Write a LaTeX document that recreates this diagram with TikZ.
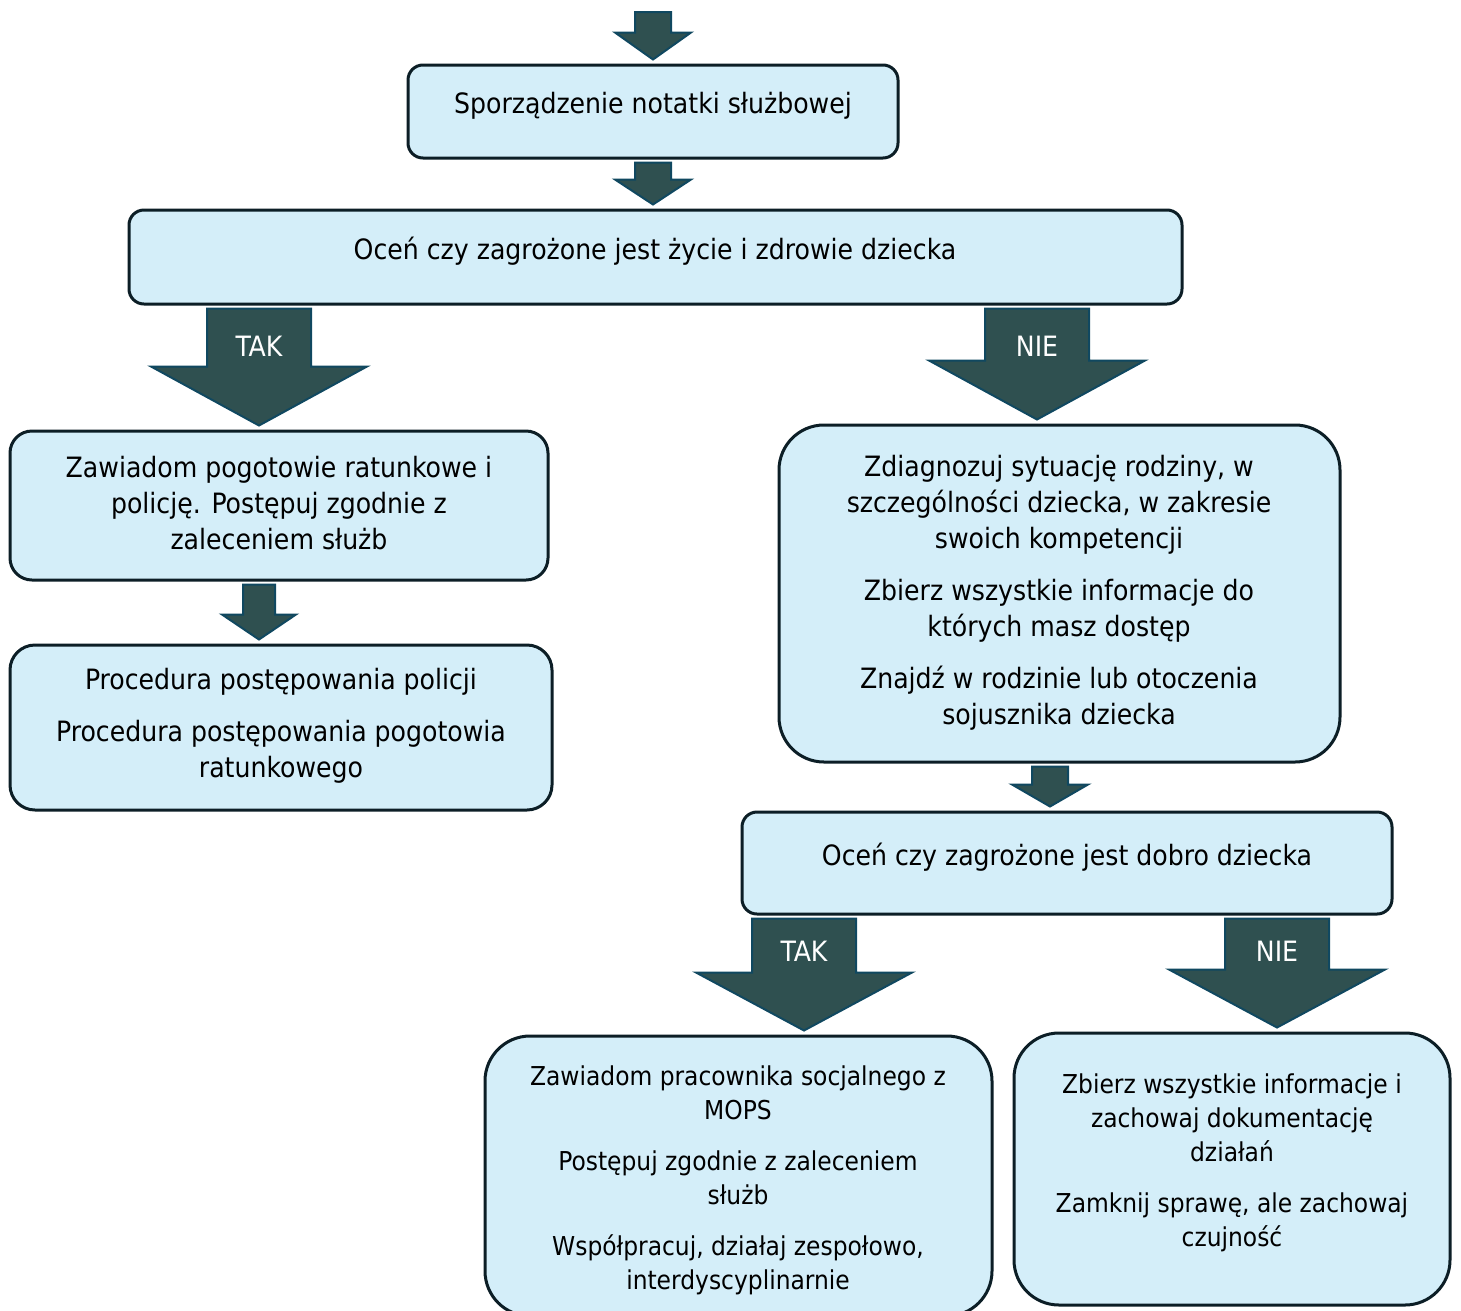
\documentclass[tikz,border=0pt]{standalone}
\usepackage{fontspec}
\setmainfont{DejaVu Sans Condensed}
\usetikzlibrary{calc}
\definecolor{boxfill}{RGB}{212,238,249}
\definecolor{boxline}{RGB}{12,30,38}
\definecolor{arrowfill}{RGB}{47,80,80}
\definecolor{arrowline}{RGB}{16,72,96}
\tikzset{
  stepbox/.style={draw=boxline, fill=boxfill, line width=3pt, rounded corners=15pt, inner sep=0pt},
  boxtext/.style={align=center, font=\fontsize{28}{36}\selectfont, text=black},
  smalltext/.style={align=center, font=\fontsize{26}{34}\selectfont, text=black},
  arrowblk/.style={draw=arrowline, fill=arrowfill, line width=2pt, line join=miter},
  arrowlabel/.style={text=white, font=\fontsize{28}{32}\selectfont}
}
% block arrow: start, tip, shaft half width, head half width, head length
\newcommand{\flowarrow}[5]{%
  \draw[arrowblk] let \p1=#1, \p2=#2 in
    (\x1-#3pt,\y1-3pt) -- (\x1+#3pt,\y1-3pt) -- (\x1+#3pt,\y2+#5pt+4pt)
    -- (\x1+#4pt,\y2+#5pt+4pt) -- (\x1,\y2+4pt) -- (\x1-#4pt,\y2+#5pt+4pt)
    -- (\x1-#3pt,\y2+#5pt+4pt) -- cycle;}
\begin{document}
\begin{tikzpicture}[x=1pt, y=-1pt]
  \clip (0,0) rectangle (1461,1310);
  \fill[white] (0,0) rectangle (1461,1310);

  % boxes
  \node[stepbox, minimum width=490pt, minimum height=93pt] (b1) at (653,111.5) {};
  \node[stepbox, minimum width=1053pt, minimum height=94pt] (b2) at (655.5,257) {};
  \node[stepbox, rounded corners=22pt, minimum width=538pt, minimum height=149pt] (b3) at (279,505.5) {};
  \node[stepbox, rounded corners=25pt, minimum width=542pt, minimum height=165pt] (b4) at (281,727.5) {};
  \node[stepbox, rounded corners=45pt, minimum width=561pt, minimum height=337pt] (b5) at (1059.5,593.5) {};
  \node[stepbox, minimum width=650pt, minimum height=102pt] (b6) at (1067,863) {};
  \node[stepbox, rounded corners=45pt, minimum width=507pt, minimum height=280pt] (b7) at (738.5,1176) {};
  \node[stepbox, rounded corners=45pt, minimum width=436pt, minimum height=272pt] (b8) at (1232,1169) {};

  % texts
  \node[boxtext] (t1) at (653,106) {Sporządzenie notatki służbowej};
  \node[boxtext] (t2) at (655,251) {Oceń czy zagrożone jest życie i zdrowie dziecka};
  \node[boxtext] (t3) at (279,503) {Zawiadom pogotowie ratunkowe i\\policję. Postępuj zgodnie z\\zaleceniem służb};
  \node[boxtext] (t4) at (281,726) {Procedura postępowania policji\\[16pt]Procedura postępowania pogotowia\\ratunkowego};
  \node[boxtext] (t5) at (1059,593) {Zdiagnozuj sytuację rodziny, w\\szczególności dziecka, w zakresie\\swoich kompetencji\\[16pt]Zbierz wszystkie informacje do\\których masz dostęp\\[16pt]Znajdź w rodzinie lub otoczenia\\sojusznika dziecka};
  \node[boxtext] (t6) at (1067,857) {Oceń czy zagrożone jest dobro dziecka};
  \node[smalltext] (t7) at (738,1180) {Zawiadom pracownika socjalnego z\\MOPS\\[17pt]Postępuj zgodnie z zaleceniem\\służb\\[17pt]Współpracuj, działaj zespołowo,\\interdyscyplinarnie};
  \node[smalltext] (t8) at (1232,1163) {Zbierz wszystkie informacje i\\zachowaj dokumentację\\działań\\[17pt]Zamknij sprawę, ale zachowaj\\czujność};

  % arrows
  \coordinate (start) at (653,9);
  \coordinate (takA) at (259,0);
  \coordinate (nieA) at (1037,0);
  \coordinate (midB) at (1050,0);
  \coordinate (takB) at (804,0);
  \coordinate (nieB) at (1277,0);
  \flowarrow{(start)}{(start |- b1.north)}{18}{38}{27}
  \flowarrow{(start |- b1.south)}{(start |- b2.north)}{18}{38}{25}
  \flowarrow{(takA |- b2.south)}{(takA |- b3.north)}{52}{108}{59}
  \flowarrow{(nieA |- b2.south)}{(nieA |- b5.north)}{52}{108}{59}
  \flowarrow{(takA |- b3.south)}{(takA |- b4.north)}{16}{37}{25}
  \flowarrow{(midB |- b5.south)}{(midB |- b6.north)}{18}{38}{22}
  \flowarrow{(takB |- b6.south)}{(takB |- b7.north)}{52}{108}{58}
  \flowarrow{(nieB |- b6.south)}{(nieB |- b8.north)}{52}{108}{58}

  % arrow labels
  \node[arrowlabel] (l1) at (259,346) {TAK};
  \node[arrowlabel] (l2) at (1037,346) {NIE};
  \node[arrowlabel] (l3) at (804,951) {TAK};
  \node[arrowlabel] (l4) at (1277,951) {NIE};
\end{tikzpicture}
\end{document}
